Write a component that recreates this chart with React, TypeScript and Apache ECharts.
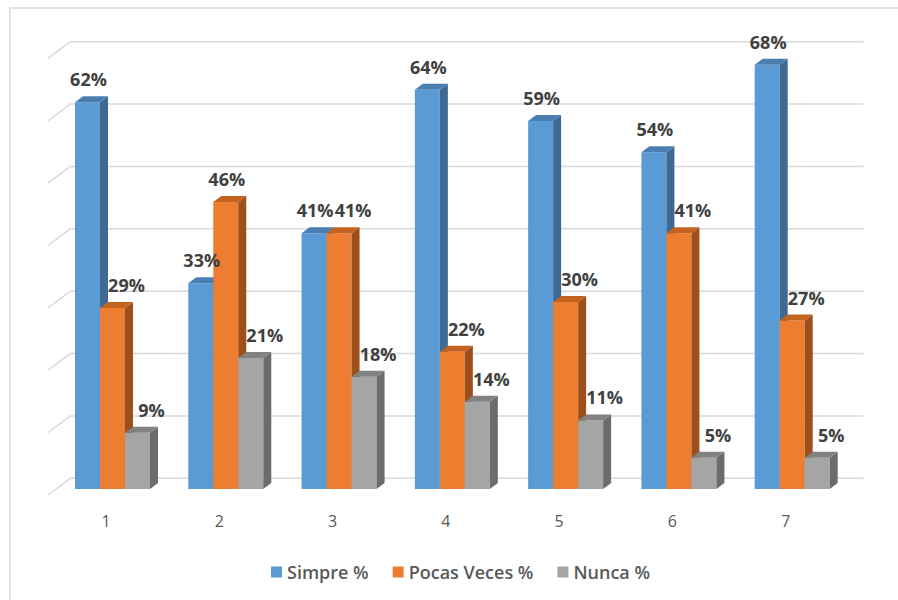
import React, { useEffect, useRef } from "react";
import * as echarts from "echarts";

// Survey answers per item, in percent
const categories = ["1", "2", "3", "4", "5", "6", "7"];
const seriesNames = ["Simpre %", "Pocas Veces %", "Nunca %"];
const simpre = [62, 33, 41, 64, 59, 54, 68];
const pocasVeces = [29, 46, 41, 22, 30, 41, 27];
const nunca = [9, 21, 18, 14, 11, 5, 5];
const gridTicks = [0, 10, 20, 30, 40, 50, 60, 70];

const seriesValues = [simpre, pocasVeces, nunca];

// front / side / top face colours of each series
const faceColors = [
  { front: "#5B9BD5", side: "#3D6992", top: "#4A7EB0" },
  { front: "#ED7D31", side: "#9E501C", top: "#C4631F" },
  { front: "#A5A5A5", side: "#6C6C6C", top: "#828282" },
];

const BAR_W = 25; // front face width
const DEPTH_X = 8; // bar depth projection
const DEPTH_Y = 6;
const GROUP_OFFSET = -31; // left edge of the first bar relative to the category centre

const WALL_DX = 21; // back wall offset from the plot's front plane
const WALL_DY = -10.7;
const FLOOR_DX = -1.4; // front edge of the floor
const FLOOR_DY = 6;

function barSeries(k: number) {
  const values = seriesValues[k];
  const colors = faceColors[k];
  return {
    name: seriesNames[k],
    type: "custom",
    z: 2,
    itemStyle: { color: colors.front },
    encode: { x: 0, y: 1 },
    data: values.map((v, i) => [i, v]),
    renderItem: (params: any, api: any) => {
      const cat = api.value(0);
      const v = api.value(1);
      const [cx, yTop] = api.coord([cat, v]);
      const yBase = api.coord([cat, 0])[1];
      const x0 = cx + GROUP_OFFSET + BAR_W * k;
      const x1 = x0 + BAR_W;
      const leftNeighbour = k > 0 ? seriesValues[k - 1][cat] : -1;
      const shift = leftNeighbour >= v ? 10 : -3;
      return {
        type: "group",
        children: [
          {
            type: "rect",
            shape: { x: x0, y: yTop, width: BAR_W, height: yBase - yTop },
            style: { fill: colors.front },
          },
          {
            type: "polygon",
            shape: {
              points: [
                [x1, yTop],
                [x1 + DEPTH_X, yTop - DEPTH_Y],
                [x1 + DEPTH_X, yBase - DEPTH_Y],
                [x1, yBase],
              ],
            },
            style: { fill: colors.side },
          },
          {
            type: "polygon",
            shape: {
              points: [
                [x0, yTop],
                [x1, yTop],
                [x1 + DEPTH_X, yTop - DEPTH_Y],
                [x0 + DEPTH_X, yTop - DEPTH_Y],
              ],
            },
            style: { fill: colors.top },
          },
          {
            type: "text",
            z2: 100,
            x: x0 + (BAR_W + DEPTH_X) / 2 + shift,
            y: yTop - DEPTH_Y - 8,
            style: {
              text: v + "%",
              fill: "#404040",
              fontSize: 18,
              fontWeight: "bold",
              fontFamily: "'Open Sans', sans-serif",
              align: "center",
              verticalAlign: "bottom",
            },
          },
        ],
      };
    },
  };
}

export default function App() {
  const ref = useRef<HTMLDivElement>(null);

  useEffect(() => {
    if (!ref.current) return;
    const chart = echarts.init(ref.current, undefined, { renderer: "svg" });
    chart.setOption({
      animation: false,
      backgroundColor: "#ffffff",
      textStyle: { fontFamily: "'Open Sans', sans-serif" },
      graphic: [
        {
          type: "rect",
          shape: { x: 10, y: 8, width: 1000, height: 1000 },
          style: { fill: "none", stroke: "#d9d9d9", lineWidth: 1.5 },
          silent: true,
        },
      ],
      grid: { left: 49.35, right: 55.65, top: 52.4, bottom: 111, containLabel: false },
      xAxis: {
        type: "category",
        data: categories,
        axisLine: { show: false },
        axisTick: { show: false },
        splitLine: { show: false },
        axisLabel: {
          color: "#595959",
          fontSize: 16,
          margin: 24,
          fontFamily: "'Open Sans', sans-serif",
        },
      },
      yAxis: {
        type: "value",
        min: 0,
        max: 70,
        interval: 10,
        show: false,
      },
      legend: {
        data: seriesNames.map((name, k) => ({
          name,
          itemStyle: { color: faceColors[k].front },
        })),
        left: 266,
        top: 558,
        icon: "rect",
        itemWidth: 11,
        itemHeight: 11,
        itemGap: 24,
        textStyle: {
          color: "#595959",
          fontSize: 18,
          fontWeight: 600,
          fontFamily: "'Open Sans', sans-serif",
        },
      },
      series: [
        {
          name: "grid",
          type: "custom",
          z: 1,
          silent: true,
          encode: { x: 0, y: 1 },
          data: gridTicks.map((t) => [0, t]),
          renderItem: (params: any, api: any) => {
            const cs = params.coordSys;
            const y = api.coord([0, api.value(1)])[1];
            return {
              type: "polyline",
              shape: {
                points: [
                  [cs.x + FLOOR_DX, y + FLOOR_DY],
                  [cs.x + WALL_DX, y + WALL_DY],
                  [cs.x + cs.width + WALL_DX, y + WALL_DY],
                ],
              },
              style: { fill: "none", stroke: "#d9d9d9", lineWidth: 1.5 },
            };
          },
        },
        barSeries(0),
        barSeries(1),
        barSeries(2),
      ],
    });
    return () => chart.dispose();
  }, []);

  return (
    <div
      ref={ref}
      style={{ position: "fixed", left: 0, top: 0, width: 898, height: 600 }}
    />
  );
}
